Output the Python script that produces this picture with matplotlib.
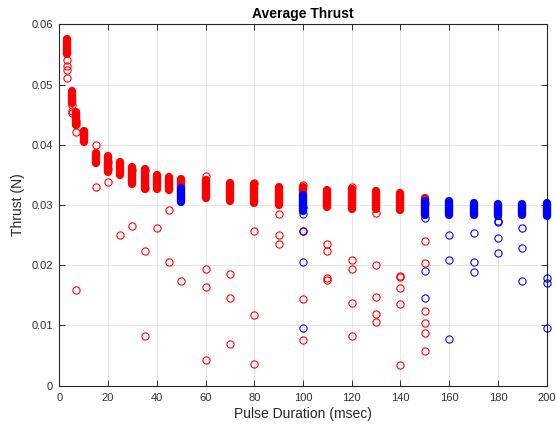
import numpy as np
import matplotlib
matplotlib.use('Agg')
import matplotlib.pyplot as plt

plt.rcParams['font.family'] = ['Liberation Sans', 'DejaVu Sans']

# dense stacks of repeated measurements: (x, lowest, highest)
red_x = [3, 5, 7, 10, 15, 20, 25, 30, 35, 40, 45, 50, 60, 70, 80, 90,
         100, 110, 120, 130, 140, 150]
red_lo = [0.0550, 0.0470, 0.0432, 0.0404, 0.0369, 0.0354, 0.0350, 0.0335,
          0.0326, 0.0327, 0.0325, 0.0329, 0.0311, 0.0307, 0.0304, 0.0300,
          0.0318, 0.0296, 0.0294, 0.0293, 0.0292, 0.0308]
red_hi = [0.0575, 0.0489, 0.0454, 0.0423, 0.0387, 0.0381, 0.0372, 0.0363,
          0.0360, 0.0349, 0.0347, 0.0343, 0.0342, 0.0337, 0.0335, 0.0330,
          0.0330, 0.0325, 0.0327, 0.0323, 0.0320, 0.0312]

blue_x = [50, 100, 150, 160, 170, 180, 190, 200]
blue_lo = [0.0305, 0.0290, 0.0283, 0.0283, 0.0283, 0.0281, 0.0283, 0.0282]
blue_hi = [0.0328, 0.0316, 0.0307, 0.0307, 0.0304, 0.0302, 0.0301, 0.0303]

# single readings
red_px = [3, 3, 3, 3, 5, 5, 5, 7, 7, 7, 15, 15, 20, 20, 20, 30, 35, 35,
          7, 25, 30, 35, 35, 40, 45, 45, 50,
          60, 60, 60, 60, 70, 70, 70, 80, 80, 80, 80,
          90, 90, 90, 100, 100, 100, 100,
          110, 110, 110, 110, 120, 120, 120, 120, 120,
          130, 130, 130, 130, 130, 140, 140, 140, 140, 140,
          150, 150, 150, 150, 150, 150, 150]
red_py = [0.0540, 0.0530, 0.0524, 0.0511, 0.0466, 0.0456, 0.0453, 0.0440, 0.0434, 0.0422,
          0.0400, 0.0330, 0.0372, 0.0360, 0.0338, 0.0358, 0.0358, 0.0329,
          0.0159, 0.0251, 0.0265, 0.0224, 0.0083, 0.0262, 0.0291, 0.0206, 0.0174,
          0.0348, 0.0193, 0.0164, 0.0043, 0.0185, 0.0146, 0.0069, 0.0337, 0.0256, 0.0118, 0.0036,
          0.0285, 0.0251, 0.0235, 0.0333, 0.0256, 0.0144, 0.0076,
          0.0236, 0.0223, 0.0178, 0.0175, 0.0330, 0.0208, 0.0194, 0.0138, 0.0083,
          0.0287, 0.0201, 0.0148, 0.0119, 0.0105, 0.0182, 0.0180, 0.0162, 0.0136, 0.0034,
          0.0304, 0.0240, 0.0203, 0.0124, 0.0104, 0.0087, 0.0058]

blue_px = [100, 100, 100, 100, 100, 150, 150, 150, 160, 160, 160,
           170, 170, 170, 180, 180, 180, 180, 190, 190, 190, 200, 200, 200]
blue_py = [0.0297, 0.0285, 0.0256, 0.0206, 0.0096, 0.0278, 0.0191, 0.0145,
           0.0250, 0.0208, 0.0078, 0.0253, 0.0205, 0.0188, 0.0274, 0.0272,
           0.0245, 0.0220, 0.0261, 0.0228, 0.0173, 0.0179, 0.0171, 0.0096]

ms = 5.2
mew = 0.8

fig = plt.figure(figsize=(5.56, 4.25), dpi=100)
ax = fig.add_axes([0.1067, 0.0925, 0.8766, 0.8503])

ax.grid(True, color='#e3e3e3', linewidth=0.6)
ax.set_axisbelow(True)

# stacks of overlapping circles drawn as round-capped bars of marker width
ax.vlines(red_x, red_lo, red_hi, colors='red', linewidth=ms + mew,
          capstyle='round', zorder=3, clip_on=False)
ax.plot(red_px, red_py, 'o', mfc='none', mec='red', ms=ms, mew=mew,
        zorder=3, clip_on=False)
ax.vlines(blue_x, blue_lo, blue_hi, colors='blue', linewidth=ms + mew,
          capstyle='round', zorder=4, clip_on=False)
ax.plot(blue_px, blue_py, 'o', mfc='none', mec='blue', ms=ms, mew=mew,
        zorder=4, clip_on=False)

ax.set_xlim(0, 200)
ax.set_ylim(0, 0.06)
ax.set_xticks(np.arange(0, 201, 20))
ax.set_yticks([0, 0.01, 0.02, 0.03, 0.04, 0.05, 0.06])
ax.set_yticklabels(['0', '0.01', '0.02', '0.03', '0.04', '0.05', '0.06'])

ax.tick_params(direction='in', length=4, width=0.7, colors='#303030',
               labelsize=8, top=True, right=True)
ax.tick_params(axis='x', pad=5)
ax.tick_params(axis='y', pad=4.5)
for s in ax.spines.values():
    s.set_color('#262626')
    s.set_linewidth(0.8)

ax.set_title('Average Thrust', fontsize=10, fontweight='bold', pad=4.5)
ax.set_xlabel('Pulse Duration (msec)', fontsize=10, color='#262626', labelpad=3)
ax.set_ylabel('Thrust (N)', fontsize=10, color='#262626', labelpad=5)

fig.savefig('out.png', dpi=100)
